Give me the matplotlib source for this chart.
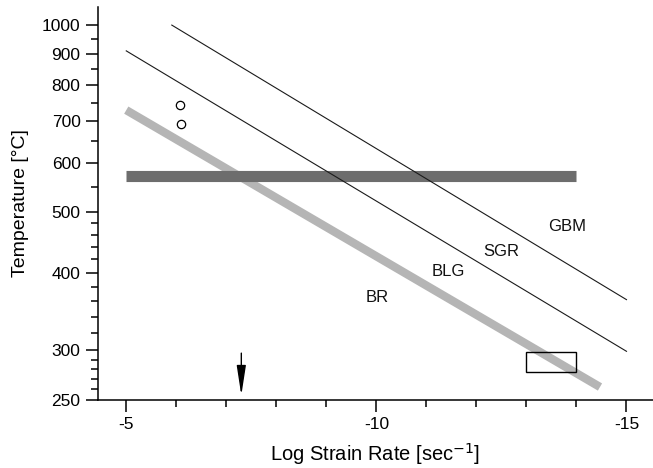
import matplotlib
matplotlib.use("Agg")
import matplotlib.pyplot as plt
from matplotlib.ticker import FixedLocator, NullFormatter
from matplotlib.patches import Rectangle

plt.rcParams['font.family'] = ['Liberation Sans', 'DejaVu Sans']

# Data (log strain rate, temperature in °C)
gbm_sgr_x = [-5.91, -15.0]
gbm_sgr_T = [1000, 362]
sgr_blg_x = [-5.0, -15.0]
sgr_blg_T = [909, 299]
blg_br_x = [-5.0, -14.47]
blg_br_T = [730, 262]
band_x = [-5.0, -14.0]
band_T = [572, 572]
circle_x = [-6.08, -6.09]
circle_T = [743, 694]
box_x = [-13.0, -14.0]
box_T = [277, 298]
arrow_x = -7.3
arrow_T = [297, 254]
labels = ["GBM", "SGR", "BLG", "BR"]
label_x = [-13.82, -12.49, -11.44, -10.02]
label_T = [475, 432, 401, 365]

yticks_major = [250, 300, 400, 500, 600, 700, 800, 900, 1000]
yticks_minor = [260, 270, 280, 290, 320, 340, 360, 380, 420, 440, 460, 480,
                550, 650, 750, 850, 950]
xticks_major = [-5, -10, -15]
xticks_minor = [-6, -7, -8, -9, -11, -12, -13, -14]

fig = plt.figure(figsize=(6.53, 4.68), dpi=100)
ax = fig.add_axes([0.150, 0.146, 0.850, 0.840])
ax.set_yscale('log')
ax.set_xlim(-4.434, -15.53)
ax.set_ylim(250, 1071)

ax.plot(band_x, band_T, color='#6d6d6d', lw=8.0, solid_capstyle='butt', zorder=2)
ax.plot(blg_br_x, blg_br_T, color='#b5b5b5', lw=6.0, solid_capstyle='butt', zorder=1)
ax.plot(gbm_sgr_x, gbm_sgr_T, color='#1a1a1a', lw=0.8, zorder=3)
ax.plot(sgr_blg_x, sgr_blg_T, color='#1a1a1a', lw=0.8, zorder=3)
ax.plot(circle_x, circle_T, 'o', mfc='white', mec='black', ms=6, mew=0.9, ls='none', zorder=4)
ax.add_patch(Rectangle((box_x[0], box_T[0]), box_x[1] - box_x[0], box_T[1] - box_T[0],
                       fill=False, ec='black', lw=1.0, zorder=5))
ax.annotate('', xy=(arrow_x, arrow_T[1]), xytext=(arrow_x, arrow_T[0]),
            arrowprops=dict(arrowstyle='-|>,head_length=1.3,head_width=0.2',
                            color='black', lw=1.0,
                            mutation_scale=14, shrinkA=0, shrinkB=0))
for s, x, t in zip(labels, label_x, label_T):
    ax.text(x, t, s, ha='center', va='center', fontsize=12, color='#111111')

for sp in ['top', 'right']:
    ax.spines[sp].set_visible(False)
for sp in ['left', 'bottom']:
    ax.spines[sp].set_linewidth(1.1)

ax.yaxis.set_major_locator(FixedLocator(yticks_major))
ax.yaxis.set_minor_locator(FixedLocator(yticks_minor))
ax.set_yticklabels([str(v) for v in yticks_major])
ax.yaxis.set_minor_formatter(NullFormatter())
ax.xaxis.set_major_locator(FixedLocator(xticks_major))
ax.xaxis.set_minor_locator(FixedLocator(xticks_minor))
ax.set_xticklabels([str(v) for v in xticks_major])

ax.tick_params(which='major', length=8.5, width=1.1, labelsize=12.5, direction='out')
ax.tick_params(axis='y', which='major', pad=4)
ax.tick_params(axis='x', which='major', pad=4)
ax.tick_params(which='minor', length=5, width=1.1, direction='out')

ax.set_xlabel('Log Strain Rate [sec$^{-1}$]', fontsize=14.5)
ax.set_ylabel('Temperature [°C]', fontsize=14)
ax.xaxis.set_label_coords(0.5, -0.106)
ax.yaxis.set_label_coords(-0.125, 0.5)

fig.savefig('out.png', dpi=100)
